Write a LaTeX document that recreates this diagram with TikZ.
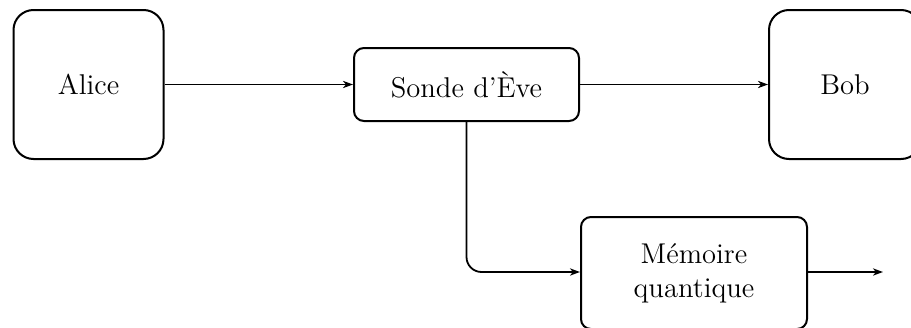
\documentclass[tikz,border=0pt]{standalone}
\usetikzlibrary{arrows.meta}
\begin{document}
\begin{tikzpicture}[x=0.5pt,y=-0.5pt,
  line width=1pt,
  bigbox/.style={draw, rounded corners=10pt, minimum width=75pt, minimum height=74.5pt,
    inner sep=0pt, font=\fontsize{14.3}{17}\selectfont},
  smallbox/.style={draw, rounded corners=5pt, minimum width=112.5pt, minimum height=36.5pt,
    inner sep=0pt, align=center, font=\fontsize{14.3}{17}\selectfont},
  flow/.style={-{Stealth[length=5pt,width=3.6pt,inset=1.5pt]}, line width=0.9pt}]
  \useasboundingbox (0,0) rectangle (911,327);

  \node[bigbox] (alice) at (88.5,84.5) {Alice};
  \node[smallbox] (sonde) at (466.5,84.5) {Sonde d’Ève};
  \node[bigbox, minimum width=76pt] (bob) at (845,84.5) {Bob};
  \node[smallbox, minimum width=113pt, minimum height=56pt] (mem) at (694,273) {Mémoire\\quantique};
  \coordinate (out) at (883,272);

  \draw[flow] (alice) -- (sonde);
  \draw[flow] (sonde) -- (bob);
  \draw[flow, rounded corners=7.5pt] (sonde.south) |- (mem.west |- out);
  \draw[flow] (mem.east |- out) -- (out);
\end{tikzpicture}
\end{document}
